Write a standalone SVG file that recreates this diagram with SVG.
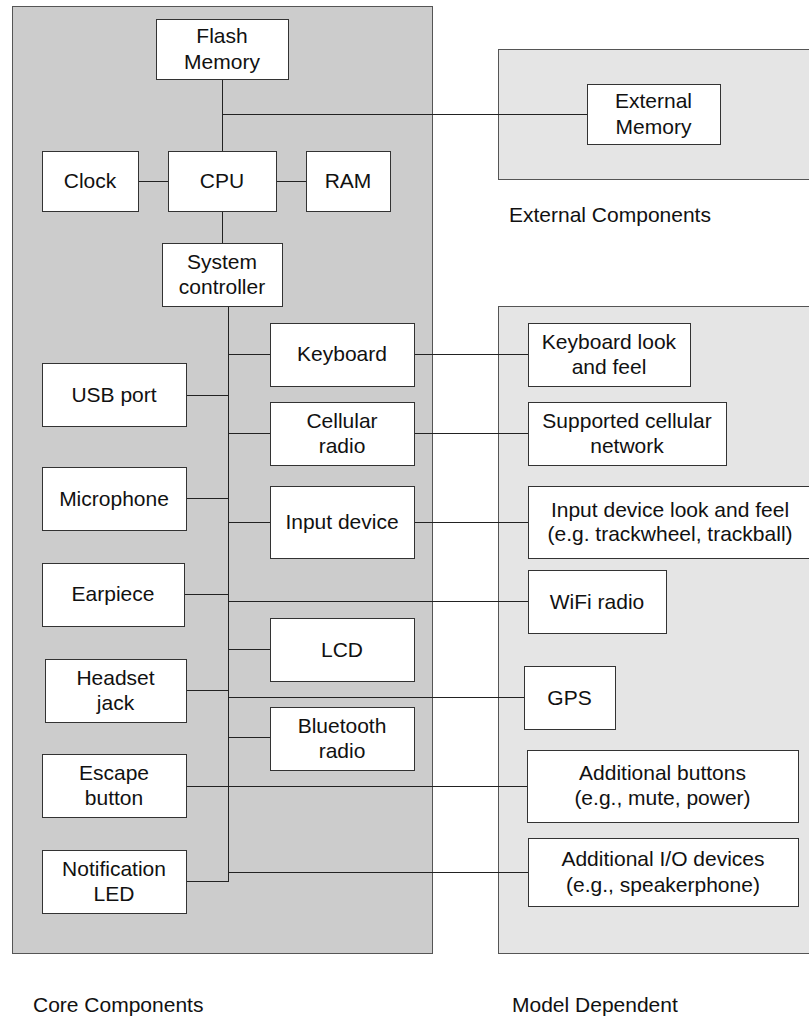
<svg xmlns="http://www.w3.org/2000/svg" width="809" height="1018" viewBox="0 0 809 1018">
<style>
.panel{stroke:#555;stroke-width:1}
.box{fill:#fff;stroke:#333;stroke-width:1}
text{font-family:"Liberation Sans",Arial,sans-serif;font-size:21px;fill:#111}
.c{text-anchor:middle}
.ln{stroke:#222;stroke-width:1;fill:none}
</style>
<rect width="809" height="1018" fill="#fff"/>
<g id="panels">
<rect class="panel" x="12.5" y="6.5" width="420" height="947" fill="#cccccc"/>
<rect class="panel" x="498.5" y="49.5" width="320" height="130" fill="#e5e5e5"/>
<rect class="panel" x="498.5" y="306.5" width="320" height="647" fill="#e5e5e5"/>
<text x="509" y="221.5">External Components</text>
<text x="33" y="1012">Core Components</text>
<text x="512" y="1012">Model Dependent</text>
</g>
<g id="connectors" class="ln">
<path d="M222.5 79V151M222.5 114.5H587M138 181.5H168M276 181.5H306M222.5 211V243"/>
<path d="M228.5 306V882"/>
<path d="M228.5 354.5H270M414 354.5H528"/>
<path d="M186 395.5H228.5"/>
<path d="M228.5 433.5H270M414 433.5H528"/>
<path d="M186 498.5H228.5"/>
<path d="M228.5 522.5H270M414 522.5H528"/>
<path d="M184 594.5H228.5"/>
<path d="M228.5 601.5H528"/>
<path d="M228.5 649.5H270"/>
<path d="M186 690.5H228.5"/>
<path d="M228.5 697.5H524"/>
<path d="M228.5 737.5H270"/>
<path d="M186 786.5H527"/>
<path d="M228.5 872.5H528"/>
<path d="M186 881.5H228.5"/>
</g>
<g id="flash"><rect class="box" x="156.5" y="19.5" width="132" height="60"/><text class="c" x="222" y="42.5">Flash</text><text class="c" x="222" y="68.5">Memory</text></g>
<g id="clock"><rect class="box" x="42.5" y="151.5" width="96" height="60"/><text class="c" x="90" y="188">Clock</text></g>
<g id="cpu"><rect class="box" x="168.5" y="151.5" width="108" height="60"/><text class="c" x="222" y="188">CPU</text></g>
<g id="ram"><rect class="box" x="306.5" y="151.5" width="84" height="60"/><text class="c" x="348" y="188">RAM</text></g>
<g id="sysctl"><rect class="box" x="162.5" y="243.5" width="120" height="63"/><text class="c" x="222" y="268.5">System</text><text class="c" x="222" y="294">controller</text></g>
<g id="extmem"><rect class="box" x="587.5" y="84.5" width="133" height="60"/><text class="c" x="653.5" y="108">External</text><text class="c" x="653.5" y="134">Memory</text></g>
<g id="keyboard"><rect class="box" x="270.5" y="323.5" width="144" height="63"/><text class="c" x="342" y="361">Keyboard</text></g>
<g id="usb"><rect class="box" x="42.5" y="363.5" width="144" height="63"/><text class="c" x="114" y="401.5">USB port</text></g>
<g id="cellular"><rect class="box" x="270.5" y="402.5" width="144" height="63"/><text class="c" x="342" y="427.5">Cellular</text><text class="c" x="342" y="453">radio</text></g>
<g id="microphone"><rect class="box" x="42.5" y="467.5" width="144" height="63"/><text class="c" x="114" y="505.5">Microphone</text></g>
<g id="input"><rect class="box" x="270.5" y="486.5" width="144" height="72"/><text class="c" x="342" y="529">Input device</text></g>
<g id="earpiece"><rect class="box" x="42.5" y="563.5" width="142" height="63"/><text class="c" x="113" y="601">Earpiece</text></g>
<g id="lcd"><rect class="box" x="270.5" y="618.5" width="144" height="63"/><text class="c" x="342" y="656.5">LCD</text></g>
<g id="headset"><rect class="box" x="45.5" y="659.5" width="141" height="63"/><text class="c" x="115.5" y="684.5">Headset</text><text class="c" x="115.5" y="710">jack</text></g>
<g id="bluetooth"><rect class="box" x="270.5" y="707.5" width="144" height="63"/><text class="c" x="342" y="732.5">Bluetooth</text><text class="c" x="342" y="758">radio</text></g>
<g id="escape"><rect class="box" x="42.5" y="754.5" width="144" height="63"/><text class="c" x="114" y="779.5">Escape</text><text class="c" x="114" y="805">button</text></g>
<g id="notification"><rect class="box" x="42.5" y="850.5" width="144" height="63"/><text class="c" x="114" y="875.5">Notification</text><text class="c" x="114" y="901">LED</text></g>
<g id="kblook"><rect class="box" x="528.5" y="323.5" width="162" height="63"/><text class="c" x="609" y="348.5">Keyboard look</text><text class="c" x="609" y="374">and feel</text></g>
<g id="cellnet"><rect class="box" x="528.5" y="402.5" width="198" height="63"/><text class="c" x="627" y="427.5">Supported cellular</text><text class="c" x="627" y="453">network</text></g>
<g id="inputlook"><rect class="box" x="528.5" y="486.5" width="290" height="72"/><text class="c" x="670" y="516.5">Input device look and feel</text><text class="c" x="670" y="541">(e.g. trackwheel, trackball)</text></g>
<g id="wifi"><rect class="box" x="528.5" y="570.5" width="138" height="63"/><text class="c" x="597" y="608.5">WiFi radio</text></g>
<g id="gps"><rect class="box" x="524.5" y="666.5" width="91" height="63"/><text class="c" x="569.5" y="704.5">GPS</text></g>
<g id="addbuttons"><rect class="box" x="527.5" y="750.5" width="271" height="72"/><text class="c" x="662.5" y="780">Additional buttons</text><text class="c" x="662.5" y="805">(e.g., mute, power)</text></g>
<g id="addio"><rect class="box" x="528.5" y="838.5" width="270" height="68"/><text class="c" x="663" y="866">Additional I/O devices</text><text class="c" x="663" y="891.5">(e.g., speakerphone)</text></g>
</svg>
